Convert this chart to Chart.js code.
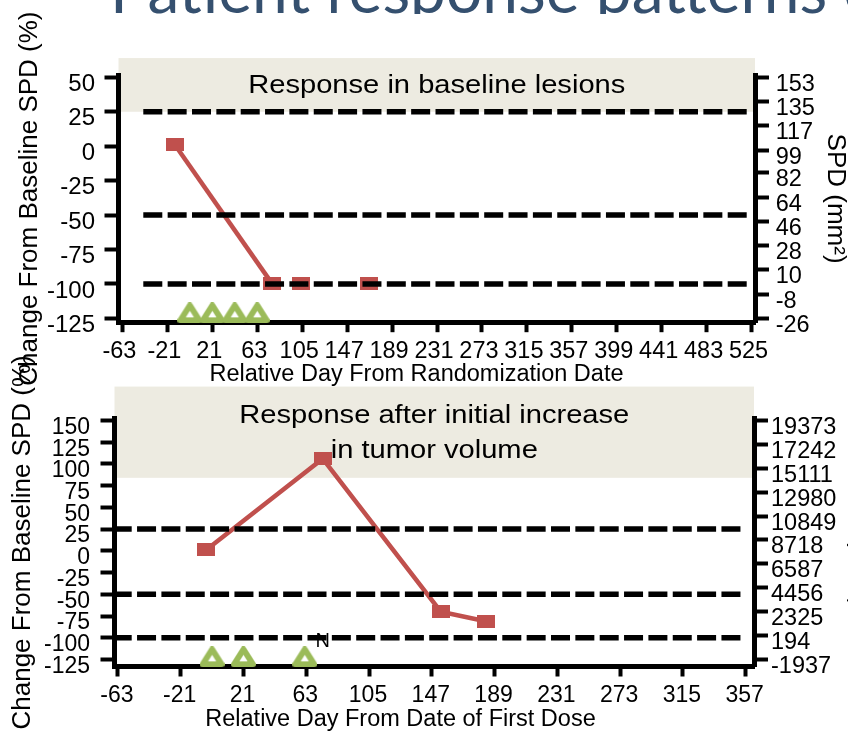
<!doctype html>
<html lang="en">
  <head>
    <meta charset="utf-8">
    <title>Patient response patterns</title>
    <style>
      * {
        margin: 0;
        padding: 0;
      }
      body {
        width: 848px;
        height: 732px;
        overflow: hidden;
        background: #fff;
        position: relative;
      }
      .slideTitle {
        position: absolute;
        left: 0;
        top: 0;
        width: 848px;
        height: 14px;
        overflow: hidden;
      }
      .slideTitle p {
        position: absolute;
        left: 110px;
        top: -43px;
        font-family: Lato, "Open Sans", sans-serif;
        font-size: 64px;
        line-height: 1;
        color: #35506f;
        white-space: nowrap;
      }
      canvas {
        position: absolute;
        left: 0;
        top: 0;
      }
    </style>
  </head>
  <body>
    <div class="slideTitle"><p>Patient response patterns of</p></div>
    <canvas id="panelB" width="880" height="732"></canvas>
    <canvas id="panelA" width="880" height="732"></canvas>

    <script src="https://cdn.jsdelivr.net/npm/chart.js"></script>
    <script>
    // ---- upper panel: response in baseline lesions ----
    const dayTicksA = [-63, -21, 21, 63, 105, 147, 189, 231, 273, 315, 357, 399, 441, 483, 525];
    const pctTicksA = [-125, -100, -75, -50, -25, 0, 25, 50];
    const spdTicksA = [-26, -8, 10, 28, 46, 64, 82, 99, 117, 135, 153];
    const lineDaysA = [-14, 77];
    const linePctA = [1, -100];
    const laterDaysA = [104, 167];
    const laterPctA = [-100, -100];
    const doseDaysA = [0, 21, 42, 63];
    const cutoffsA = [25, -50, -100];

    // ---- lower panel: response after initial increase ----
    const dayTicksB = [-63, -21, 21, 63, 105, 147, 189, 231, 273, 315, 357];
    const pctTicksB = [-125, -100, -75, -50, -25, 0, 25, 50, 75, 100, 125, 150];
    const spdTicksB = [-1937, 194, 2325, 4456, 6587, 8718, 10849, 12980, 15111, 17242, 19373];
    const lineDaysB = [-4, 74, 153, 183];
    const linePctB = [1, 106, -70, -81];
    const doseDaysB = [0, 21, 62];
    const cutoffsB = [25, -50, -100];

    const RED = '#c0504d';
    const GREEN = '#9bbb59';
    const FONT = '"Liberation Sans", Arial, sans-serif';

    Chart.defaults.font.family = FONT;
    Chart.defaults.color = '#000';

    // marker images (squares are a bit wider than tall in the original)
    function rectMarker(w, h, color) {
      const c = document.createElement('canvas');
      c.width = w;
      c.height = h;
      const g = c.getContext('2d');
      g.fillStyle = color;
      g.fillRect(0, 0, w, h);
      return c;
    }
    function triangleMarker(w, h, lw, color) {
      const c = document.createElement('canvas');
      c.width = w;
      c.height = h;
      const g = c.getContext('2d');
      const m = lw / 2;
      g.lineJoin = 'round';
      g.lineWidth = lw;
      g.strokeStyle = color;
      g.fillStyle = '#fff';
      g.beginPath();
      g.moveTo(w / 2, m);
      g.lineTo(w - m, h - m);
      g.lineTo(m, h - m);
      g.closePath();
      g.fill();
      g.stroke();
      return c;
    }
    const squareImg = rectMarker(18, 13, RED);
    const triangleImg = triangleMarker(25, 21, 6, GREEN);

    const pts = (xs, ys) => xs.map((x, i) => ({x: x, y: ys[i]}));

    // band, cut-off lines and free text drawn around the plot
    const panelDecor = {
      id: 'panelDecor',
      beforeDraw(chart, args, o) {
        const {ctx, chartArea: a, scales: {y}} = chart;
        const top = y.getPixelForValue(o.band[1]);
        const bottom = y.getPixelForValue(o.band[0]);
        ctx.save();
        ctx.fillStyle = '#edebe1';
        ctx.fillRect(a.left, top, a.right - a.left, bottom - top);
        ctx.restore();
      },
      afterDatasetsDraw(chart, args, o) {
        const {ctx, chartArea: a, scales: {x, y}} = chart;
        ctx.save();
        ctx.strokeStyle = '#000';
        ctx.lineWidth = 5.5;
        ctx.setLineDash([19, 5.35]);
        o.cutoffs.forEach(v => {
          const py = y.getPixelForValue(v);
          ctx.beginPath();
          ctx.moveTo(a.left + o.dashFrom, py);
          ctx.lineTo(a.right - o.dashTo, py);
          ctx.stroke();
        });
        ctx.setLineDash([]);

        ctx.fillStyle = '#000';
        ctx.textAlign = 'center';
        ctx.textBaseline = 'middle';

        // band caption, drawn a little wide like the original
        ctx.font = '26px ' + FONT;
        o.bandText.forEach((t, i) => {
          ctx.save();
          ctx.translate((a.left + a.right) / 2, o.bandTextY[i]);
          ctx.scale(1.12, 1);
          ctx.fillText(t, 0, 0);
          ctx.restore();
        });

        ctx.font = '20px ' + FONT;
        o.notes.forEach(n => ctx.fillText(n.text, x.getPixelForValue(n.x), y.getPixelForValue(n.y)));

        ctx.font = '23.5px ' + FONT;
        ctx.fillText(o.xTitle, o.xTitleX, o.xTitleY);
        ctx.restore();
      }
    };

    function makePanel(id, p) {
      const n = p.pctTicks.length - 1, m = p.spdTicks.length - 1;
      const toSpd = v => p.spdTicks[0] + (v - p.pctTicks[0]) * (p.spdTicks[m] - p.spdTicks[0]) / (p.pctTicks[n] - p.pctTicks[0]);
      const tickGrid = {drawOnChartArea: false, tickLength: 14, tickWidth: 4, tickColor: '#000'};
      const border = {color: '#000', width: 5};

      const datasets = [{
        data: pts(p.lineDays, p.linePct),
        borderColor: RED,
        borderWidth: 4.5,
        pointStyle: squareImg,
        pointRadius: 8
      }];
      if (p.laterDays) {
        datasets.push({
          data: pts(p.laterDays, p.laterPct),
          showLine: false,
          pointStyle: squareImg,
          pointRadius: 8
        });
      }
      datasets.push({
        data: p.doseDays.map(d => ({x: d, y: p.doseLevel})),
        showLine: false,
        pointStyle: triangleImg,
        pointRadius: 10,
        clip: false
      });

      return new Chart(document.getElementById(id), {
        type: 'line',
        data: {datasets: datasets},
        options: {
          responsive: false,
          animation: false,
          events: [],
          layout: {padding: {left: 0, right: 0, top: p.top, bottom: 0}},
          plugins: {
            legend: {display: false},
            tooltip: {enabled: false},
            panelDecor: {
              band: p.band,
              cutoffs: p.cutoffs,
              dashFrom: p.dashFrom,
              dashTo: p.dashTo,
              bandText: p.bandText,
              bandTextY: p.bandTextY,
              notes: p.notes,
              xTitle: p.xTitle,
              xTitleX: p.xTitleX,
              xTitleY: p.xTitleY
            }
          },
          scales: {
            x: {
              type: 'linear',
              position: 'bottom',
              min: p.xMin,
              max: p.xMax,
              z: 1,
              afterBuildTicks: s => { s.ticks = p.dayTicks.map(v => ({value: v})); },
              afterFit: s => { s.height = p.xHeight; },
              border: border,
              grid: {drawOnChartArea: false, tickLength: 10, tickWidth: 4, tickColor: '#000'},
              ticks: {
                autoSkip: false, maxRotation: 0, minRotation: 0,
                font: {size: p.xFont}, padding: p.xPad, labelOffset: p.xLabelOffset,
                callback: v => String(v)
              }
            },
            y: {
              type: 'linear',
              position: 'left',
              min: p.yMin,
              max: p.yMax,
              afterBuildTicks: s => { s.ticks = p.pctTicks.map(v => ({value: v})); },
              afterFit: s => { s.width = p.leftWidth; },
              border: border,
              grid: tickGrid,
              ticks: {
                autoSkip: false, font: {size: p.leftFont}, padding: p.leftPad, labelOffset: 7,
                callback: v => String(v)
              },
              title: {
                display: true,
                text: 'Change From Baseline SPD (%)',
                font: {size: 26},
                padding: {top: p.leftTitlePad, bottom: 0}
              }
            },
            y2: {
              type: 'linear',
              position: 'right',
              min: toSpd(p.yMin),
              max: toSpd(p.yMax),
              afterBuildTicks: s => { s.ticks = p.spdTicks.map(v => ({value: v})); },
              afterFit: s => { s.width = p.rightWidth; },
              border: border,
              grid: tickGrid,
              ticks: {
                autoSkip: false, font: {size: p.rightFont}, padding: p.rightPad, labelOffset: 7,
                callback: v => String(v)
              },
              title: {
                display: true,
                text: 'SPD (mm²)',
                font: {size: 26},
                padding: {top: p.rightTitlePad, bottom: 0}
              }
            }
          }
        },
        plugins: [panelDecor]
      });
    }

    makePanel('panelA', {
      dayTicks: dayTicksA, pctTicks: pctTicksA, spdTicks: spdTicksA,
      lineDays: lineDaysA, linePct: linePctA,
      laterDays: laterDaysA, laterPct: laterPctA,
      doseDays: doseDaysA, doseLevel: -121,
      cutoffs: cutoffsA, band: [25, 64],
      bandText: ['Response in baseline lesions'], bandTextY: [86],
      notes: [],
      xTitle: 'Relative Day From Randomization Date', xTitleX: 416.5, xTitleY: 375,
      xMin: -66.7, xMax: 528.2, yMin: -127.8, yMax: 51.7,
      top: 75, xHeight: 409.8, leftWidth: 118.5, rightWidth: 125,
      xFont: 23.5, leftFont: 24, rightFont: 23.5, xPad: 5.4, xLabelOffset: -3,
      leftPad: 9.5, rightPad: 6.7, leftTitlePad: 13.9, rightTitlePad: 29.4,
      dashFrom: 24.8, dashTo: 8.3
    });

    makePanel('panelB', {
      dayTicks: dayTicksB, pctTicks: pctTicksB, spdTicks: spdTicksB,
      lineDays: lineDaysB, linePct: linePctB,
      doseDays: doseDaysB, doseLevel: -122,
      cutoffs: cutoffsB, band: [84, 189],
      bandText: ['Response after initial increase', 'in tumor volume'], bandTextY: [416, 451],
      notes: [{text: 'N', x: 74, y: -104}],
      xTitle: 'Relative Day From Date of First Dose', xTitleX: 400.5, xTitleY: 720,
      xMin: -65.3, xMax: 362.6, yMin: -133.1, yMax: 152.5,
      top: 418.3, xHeight: 65.5, leftWidth: 114.5, rightWidth: 126,
      xFont: 23, leftFont: 23, rightFont: 23.5, xPad: 5, xLabelOffset: -1,
      leftPad: 10.5, rightPad: 3, leftTitlePad: 6.9, rightTitlePad: 5.4,
      dashFrom: -1.8, dashTo: 13.3
    });
    </script>
  </body>
</html>
